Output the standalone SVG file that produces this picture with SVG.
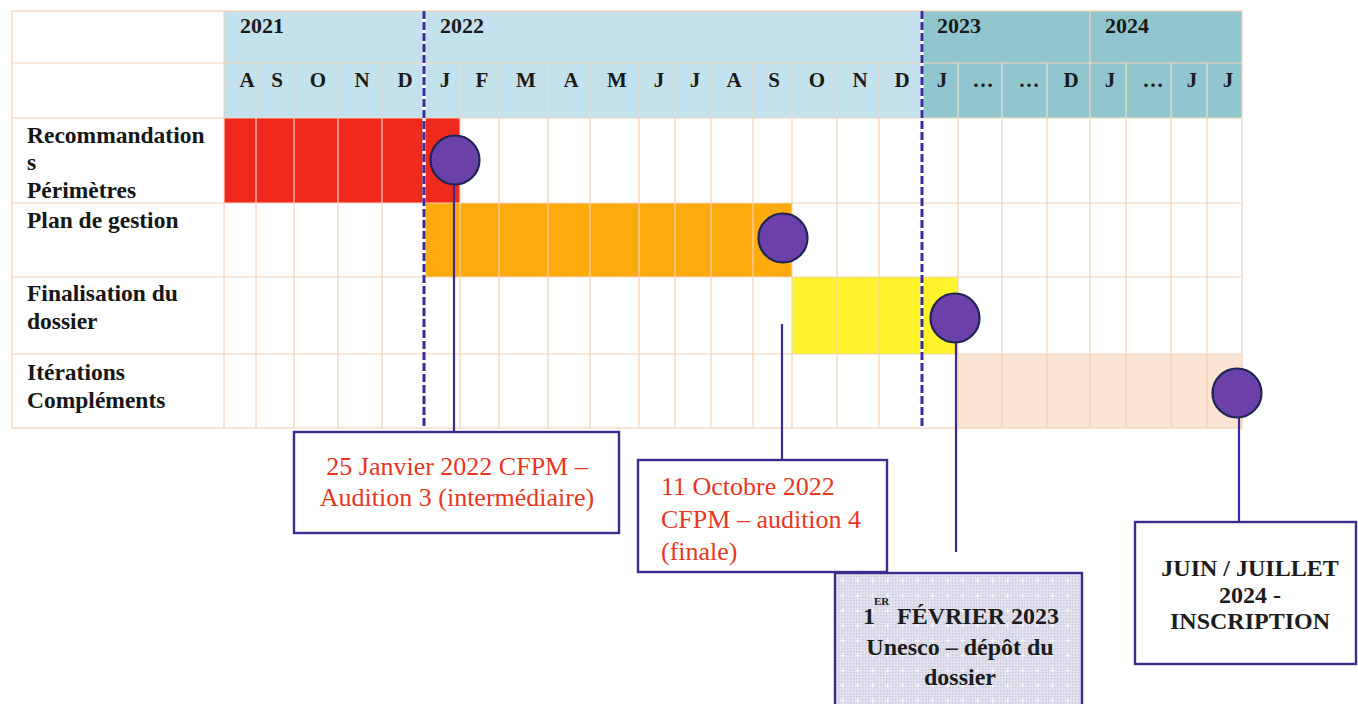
<svg xmlns="http://www.w3.org/2000/svg" width="1358" height="704" viewBox="0 0 1358 704">
<defs>
<style>
text{font-family:"Liberation Serif","Times New Roman",serif}
.lbl{font-weight:bold;font-size:23.5px;fill:#161616}
.yr{font-weight:bold;font-size:22px;fill:#1a1a1a}
.mo{font-weight:bold;font-size:21px;fill:#1a1a1a;text-anchor:middle}
.red{font-size:26px;fill:#e8361f}
.bk{font-weight:bold;font-size:24px;fill:#1c1c1c}
.grid{stroke:#f4d3b9;stroke-width:1.2;fill:none}
.hgrid{stroke:#e6dcd2;stroke-width:1.2;fill:none}
.under{stroke:#ffffff;stroke-width:3;fill:none}
.dash{stroke:#3a2a9c;stroke-width:3;stroke-dasharray:8 3;fill:none}
.conn{stroke:#3a2a96;stroke-width:2.2;fill:none}
.ms{fill:#6b40a9;stroke:#1f2656;stroke-width:2.2}
.box{fill:#ffffff;stroke:#3d2c8e;stroke-width:2.4}
</style>
<pattern id="fine" width="3" height="3" patternUnits="userSpaceOnUse">
<rect width="3" height="3" fill="#e2e2ee"/>
<rect width="1.5" height="1.5" fill="#c9c9dc"/>
</pattern>
<pattern id="dots" width="15" height="15" patternUnits="userSpaceOnUse" x="835" y="573">
<rect width="15" height="15" fill="url(#fine)"/>
<path d="M7.5 5v5M5 7.5h5" stroke="#f6f6fb" stroke-width="1"/>
</pattern>
</defs>

<g id="table">
<rect x="12" y="11" width="212" height="107" fill="#ffffff"/>
<rect x="224" y="11" width="698" height="107" fill="#c4e1ee"/>
<rect x="922" y="11" width="320" height="107" fill="#92c6ce"/>
<rect x="12" y="118" width="1230" height="310" fill="#ffffff"/>
</g>

<g id="bars">
<rect id="bar-recommandations" x="224" y="118" width="236" height="85" fill="#ef2a1c"/>
<rect id="bar-plan" x="425" y="203" width="367" height="74" fill="#fcaa0e"/>
<rect id="bar-finalisation" x="792" y="277" width="166" height="77" fill="#fff32b"/>
<rect id="bar-iterations" x="958" y="354" width="284" height="74" fill="#fce4d2"/>
</g>

<g id="grid">
<path class="hgrid" d="M256 63V118M294 63V118M338 63V118M382 63V118M460 63V118M499 63V118M548 63V118M590 63V118M639 63V118M675 63V118M711 63V118M753 63V118M792 63V118M837 63V118M879 63V118M958 63V118M1002 63V118M1047 63V118M1126 63V118M1171 63V118M1207 63V118"/>
<path class="grid" d="M1090 11V118M12 63H1242"/>
<path class="grid" d="M256 118V428M294 118V428M338 118V428M382 118V428M425 118V428M460 118V428M499 118V428M548 118V428M590 118V428M639 118V428M675 118V428M711 118V428M753 118V428M792 118V428M837 118V428M879 118V428M922 118V428M958 118V428M1002 118V428M1047 118V428M1090 118V428M1126 118V428M1171 118V428M1207 118V428"/>
<path class="grid" d="M12 118H1242M12 203H1242M12 277H1242M12 354H1242M224 11V428"/>
<rect class="grid" x="12" y="11" width="1230" height="417"/>
</g>

<g id="headers">
<text class="yr" x="240" y="33">2021</text>
<text class="yr" x="440" y="33">2022</text>
<text class="yr" x="937" y="33">2023</text>
<text class="yr" x="1105" y="33">2024</text>
<text class="mo" x="247" y="87">A</text>
<text class="mo" x="277" y="87">S</text>
<text class="mo" x="318" y="87">O</text>
<text class="mo" x="362" y="87">N</text>
<text class="mo" x="405" y="87">D</text>
<text class="mo" x="445" y="87">J</text>
<text class="mo" x="482" y="87">F</text>
<text class="mo" x="526" y="87">M</text>
<text class="mo" x="571" y="87">A</text>
<text class="mo" x="617" y="87">M</text>
<text class="mo" x="659" y="87">J</text>
<text class="mo" x="695" y="87">J</text>
<text class="mo" x="734" y="87">A</text>
<text class="mo" x="774" y="87">S</text>
<text class="mo" x="817" y="87">O</text>
<text class="mo" x="860" y="87">N</text>
<text class="mo" x="902" y="87">D</text>
<text class="mo" x="942" y="87">J</text>
<text class="mo" x="983" y="87">…</text>
<text class="mo" x="1029" y="87">…</text>
<text class="mo" x="1071" y="87">D</text>
<text class="mo" x="1110" y="87">J</text>
<text class="mo" x="1153" y="87">…</text>
<text class="mo" x="1192" y="87">J</text>
<text class="mo" x="1228" y="87">J</text>
</g>

<g id="row-labels">
<text class="lbl" x="27" y="143">Recommandation</text>
<text class="lbl" x="27" y="170">s</text>
<text class="lbl" x="27" y="198">Périmètres</text>
<text class="lbl" x="27" y="228">Plan de gestion</text>
<text class="lbl" x="27" y="301">Finalisation du</text>
<text class="lbl" x="27" y="329">dossier</text>
<text class="lbl" x="27" y="380">Itérations</text>
<text class="lbl" x="27" y="408">Compléments</text>
</g>

<g id="dashed-markers">
<path class="under" d="M424 11V428M922 11V428"/>
<path class="dash" d="M424 11V428M922 11V428"/>
</g>

<g id="connectors">
<path class="conn" d="M454 185V432"/>
<path class="conn" d="M782 324V460"/>
<path class="conn" d="M956 343V552"/>
<path class="conn" d="M1239 418V522"/>
</g>

<g id="milestones">
<circle id="m1" class="ms" cx="455" cy="160" r="24.5"/>
<circle id="m2" class="ms" cx="783" cy="238" r="24.5"/>
<circle id="m3" class="ms" cx="955" cy="318" r="24.5"/>
<circle id="m4" class="ms" cx="1237" cy="393" r="24.5"/>
</g>

<g id="box-cfpm3">
<rect class="box" x="294" y="432" width="325" height="101"/>
<text class="red" x="457" y="475" text-anchor="middle">25 Janvier 2022 CFPM –</text>
<text class="red" x="457" y="506" text-anchor="middle">Audition 3 (intermédiaire)</text>
</g>

<g id="box-cfpm4">
<rect class="box" x="638" y="460" width="249" height="112"/>
<text class="red" x="661" y="495">11 Octobre 2022</text>
<text class="red" x="661" y="528">CFPM – audition 4</text>
<text class="red" x="661" y="560">(finale)</text>
</g>

<g id="box-unesco">
<rect x="835" y="573" width="247" height="140" fill="url(#dots)" stroke="#3d2c8e" stroke-width="2.4"/>
<text class="bk" x="863" y="624">1</text>
<text class="bk" x="874" y="605" style="font-size:11px">ER</text>
<text class="bk" x="897" y="624">FÉVRIER 2023</text>
<text class="bk" x="960" y="655" text-anchor="middle">Unesco – dépôt du</text>
<text class="bk" x="960" y="685" text-anchor="middle">dossier</text>
</g>

<g id="box-inscription">
<rect class="box" x="1135" y="522" width="221" height="142"/>
<text class="bk" x="1250" y="576" text-anchor="middle">JUIN / JUILLET</text>
<text class="bk" x="1250" y="603" text-anchor="middle">2024 -</text>
<text class="bk" x="1250" y="629" text-anchor="middle">INSCRIPTION</text>
</g>
</svg>
